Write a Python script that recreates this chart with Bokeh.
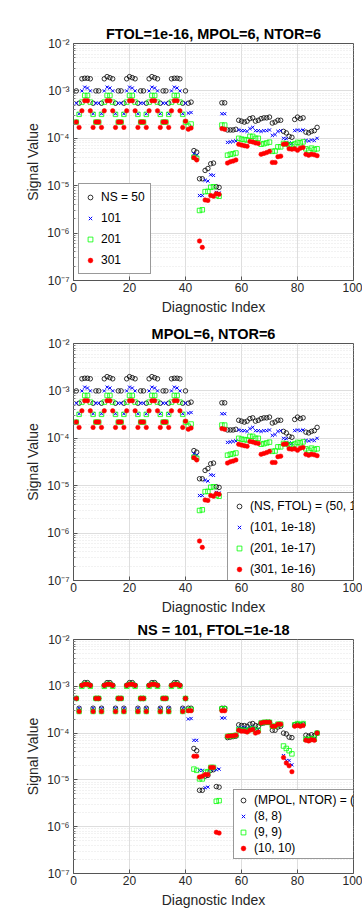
from bokeh.plotting import figure
from bokeh.layouts import column
from bokeh.models import Range1d, FixedTicker, CustomJSTickFormatter, Legend, LegendItem
from bokeh.embed import file_html
from bokeh.resources import INLINE

# ---------------- data ----------------
diag_index = list(range(1, 88))

# Panels 1 and 2 (FTOL=1e-16, MPOL=6, NTOR=6 / MPOL=6, NTOR=6)
ns50 = [1.0e-3, 5.5e-4, 1.8e-3, 1.85e-3, 1.85e-3, 1.8e-3, 5.5e-4, 1.0e-3,
        1.0e-3, 5.5e-4, 1.8e-3, 2.0e-3, 1.9e-3, 1.8e-3, 5.5e-4, 1.0e-3,
        1.0e-3, 5.5e-4, 1.8e-3, 2.0e-3, 1.9e-3, 1.8e-3, 5.5e-4, 1.0e-3,
        1.0e-3, 5.5e-4, 1.8e-3, 2.0e-3, 1.9e-3, 1.8e-3, 5.5e-4, 1.0e-3,
        1.0e-3, 5.5e-4, 1.8e-3, 1.85e-3, 1.85e-3, 1.8e-3, 5.5e-4, 1.0e-3,
        5.5e-4, 5.8e-4, 5.5e-5, 5.1e-5, 1.4e-5, 1.4e-5, 2.1e-5, 2.3e-5, 2.9e-5, 3.0e-5, 9.5e-6, 9.2e-6,
        5.6e-4, 5.6e-4,
        1.5e-4, 1.5e-4, 1.5e-4, 1.55e-4, 2.4e-4, 2.3e-4, 2.2e-4, 2.3e-4,
        2.6e-4, 2.7e-4, 2.3e-4, 2.4e-4, 2.6e-4, 2.7e-4, 2.7e-4, 2.8e-4,
        2.1e-4, 2.2e-4, 2.4e-4, 2.4e-4, 1.4e-4, 1.3e-4, 1.1e-4, 1.05e-4,
        2.5e-4, 2.8e-4, 2.6e-4, 2.7e-4, 1.35e-4, 1.3e-4, 1.4e-4, 1.45e-4, 1.7e-4]
ns101 = [5.5e-4, 3.3e-4, 1.0e-3, 1.2e-3, 1.15e-3, 1.0e-3, 3.3e-4, 5.5e-4,
         5.5e-4, 3.3e-4, 1.0e-3, 1.2e-3, 1.15e-3, 1.0e-3, 3.3e-4, 5.5e-4,
         5.5e-4, 3.3e-4, 1.0e-3, 1.2e-3, 1.15e-3, 1.0e-3, 3.3e-4, 5.5e-4,
         5.5e-4, 3.3e-4, 1.0e-3, 1.2e-3, 1.15e-3, 1.0e-3, 3.3e-4, 5.5e-4,
         5.5e-4, 3.3e-4, 1.0e-3, 1.2e-3, 1.15e-3, 1.0e-3, 3.3e-4, 5.5e-4,
         3.4e-4, 3.5e-4, 4.7e-5, 4.4e-5, 6.2e-6, 6.2e-6, 1.3e-5, 1.25e-5, 1.7e-5, 1.65e-5, 7.2e-6, 7.0e-6,
         3.3e-4, 3.3e-4,
         8.2e-5, 8.4e-5, 8.6e-5, 8.8e-5, 1.5e-4, 1.45e-4, 1.45e-4, 1.4e-4,
         1.6e-4, 1.7e-4, 1.45e-4, 1.45e-4, 1.4e-4, 1.45e-4, 1.45e-4, 1.5e-4,
         1.15e-4, 1.2e-4, 1.4e-4, 1.45e-4, 1.0e-4, 9.8e-5, 8.0e-5, 7.8e-5,
         1.45e-4, 1.5e-4, 1.45e-4, 1.5e-4, 9.0e-5, 8.8e-5, 9.2e-5, 9.0e-5, 1.0e-4]
ns201 = [2.2e-4, 3.2e-4, 5.8e-4, 8.0e-4, 8.0e-4, 5.8e-4, 3.2e-4, 2.2e-4,
         2.2e-4, 3.2e-4, 5.8e-4, 8.0e-4, 8.0e-4, 5.8e-4, 3.2e-4, 2.2e-4,
         2.2e-4, 3.2e-4, 5.8e-4, 8.0e-4, 8.0e-4, 5.8e-4, 3.2e-4, 2.2e-4,
         2.2e-4, 3.2e-4, 5.8e-4, 8.0e-4, 8.0e-4, 5.8e-4, 3.2e-4, 2.2e-4,
         2.2e-4, 3.2e-4, 5.8e-4, 8.0e-4, 8.0e-4, 5.8e-4, 3.2e-4, 2.2e-4,
         1.8e-4, 2.0e-4, 4.0e-5, 3.8e-5, 3.0e-6, 3.1e-6, 7.5e-6, 7.6e-6, 9.3e-6, 9.5e-6, 6.2e-6, 6.0e-6,
         1.9e-4, 1.9e-4,
         4.4e-5, 4.6e-5, 4.7e-5, 4.9e-5, 1.0e-4, 9.6e-5, 9.4e-5, 9.2e-5,
         1.1e-4, 1.1e-4, 1.0e-4, 1.0e-4, 7.5e-5, 7.7e-5, 8.0e-5, 8.3e-5,
         5.3e-5, 5.4e-5, 6.6e-5, 6.6e-5, 7.8e-5, 7.6e-5, 7.2e-5, 7.3e-5,
         7.6e-5, 8.2e-5, 8.0e-5, 8.4e-5, 6.0e-5, 5.6e-5, 6.2e-5, 5.8e-5, 6.0e-5]
ns301 = [2.2e-4, 1.7e-4, 3.8e-4, 6.2e-4, 6.2e-4, 3.8e-4, 1.7e-4, 2.2e-4,
         2.2e-4, 1.7e-4, 3.8e-4, 6.2e-4, 6.2e-4, 3.8e-4, 1.7e-4, 2.2e-4,
         2.2e-4, 1.7e-4, 3.8e-4, 6.2e-4, 6.2e-4, 3.8e-4, 1.7e-4, 2.2e-4,
         2.2e-4, 1.7e-4, 3.8e-4, 6.2e-4, 6.2e-4, 3.8e-4, 1.7e-4, 2.2e-4,
         2.2e-4, 1.7e-4, 3.8e-4, 6.2e-4, 6.2e-4, 3.8e-4, 1.7e-4, 2.3e-4,
         1.55e-4, 1.65e-4, 3.9e-5, 3.5e-5, 6.8e-7, 5.0e-7, 5.0e-6, 4.9e-6, 6.2e-6, 6.0e-6, 6.8e-6, 6.6e-6,
         1.6e-4, 1.55e-4,
         3.0e-5, 3.2e-5, 3.3e-5, 3.5e-5, 7.5e-5, 7.2e-5, 7.0e-5, 6.8e-5,
         8.6e-5, 8.4e-5, 8.0e-5, 7.8e-5, 4.6e-5, 4.8e-5, 5.0e-5, 5.3e-5,
         3.1e-5, 3.1e-5, 4.1e-5, 4.2e-5, 7.5e-5, 7.6e-5, 6.0e-5, 5.9e-5,
         6.0e-5, 5.6e-5, 6.2e-5, 6.4e-5, 4.6e-5, 4.4e-5, 4.6e-5, 4.5e-5, 4.3e-5]

# Panel 3 (NS = 101, FTOL=1e-18)
mn66 = [5.5e-4, 3.4e-4, 1.05e-3, 1.2e-3, 1.2e-3, 1.05e-3, 3.4e-4, 5.5e-4,
        5.5e-4, 3.4e-4, 1.05e-3, 1.2e-3, 1.2e-3, 1.05e-3, 3.4e-4, 5.5e-4,
        5.5e-4, 3.4e-4, 1.05e-3, 1.2e-3, 1.2e-3, 1.05e-3, 3.4e-4, 5.5e-4,
        5.5e-4, 3.4e-4, 1.05e-3, 1.2e-3, 1.2e-3, 1.05e-3, 3.4e-4, 5.5e-4,
        5.5e-4, 3.4e-4, 1.05e-3, 1.2e-3, 1.2e-3, 1.05e-3, 3.4e-4, 5.5e-4,
        3.4e-4, 3.4e-4, 4.7e-5, 4.2e-5, 6.0e-6, 6.0e-6, 1.2e-5, 1.25e-5, 1.6e-5, 1.65e-5, 7.2e-6, 7.0e-6,
        3.4e-4, 3.4e-4,
        8.0e-5, 8.2e-5, 8.4e-5, 8.6e-5, 1.5e-4, 1.45e-4, 1.45e-4, 1.4e-4,
        1.55e-4, 1.6e-4, 1.45e-4, 1.4e-4, 1.6e-4, 1.65e-4, 1.7e-4, 1.7e-4,
        1.15e-4, 1.15e-4, 1.35e-4, 1.4e-4, 1.0e-4, 9.6e-5, 8.2e-5, 8.0e-5,
        1.5e-4, 1.55e-4, 1.5e-4, 1.55e-4, 9.0e-5, 8.6e-5, 9.2e-5, 8.8e-5, 1.0e-4]
mn88 = [5.5e-4, 3.4e-4, 1.05e-3, 1.15e-3, 1.15e-3, 1.05e-3, 3.4e-4, 5.5e-4,
        5.5e-4, 3.4e-4, 1.05e-3, 1.15e-3, 1.15e-3, 1.05e-3, 3.4e-4, 5.5e-4,
        5.5e-4, 3.4e-4, 1.05e-3, 1.15e-3, 1.15e-3, 1.05e-3, 3.4e-4, 5.5e-4,
        5.5e-4, 3.4e-4, 1.05e-3, 1.15e-3, 1.15e-3, 1.05e-3, 3.4e-4, 5.5e-4,
        5.5e-4, 3.4e-4, 1.05e-3, 1.15e-3, 1.15e-3, 1.05e-3, 3.4e-4, 5.5e-4,
        2.0e-4, 2.05e-4, 7.0e-5, 7.0e-5, 1.6e-5, 1.6e-5, 6.8e-6, 7.0e-6, 1.7e-5, 1.7e-5, 1.65e-5, 1.7e-5,
        2.1e-4, 2.1e-4,
        8.4e-5, 8.6e-5, 8.7e-5, 8.8e-5, 1.3e-4, 1.3e-4, 1.3e-4, 1.25e-4,
        1.3e-4, 1.35e-4, 1.2e-4, 1.2e-4, 1.6e-4, 1.65e-4, 1.65e-4, 1.7e-4,
        1.35e-4, 1.35e-4, 1.5e-4, 1.5e-4, 3.3e-5, 2.6e-5, 2.6e-5, 2.1e-5,
        1.4e-4, 1.45e-4, 1.4e-4, 1.45e-4, 7.2e-5, 7.0e-5, 7.4e-5, 7.2e-5, 1.0e-4]
mn99 = [5.5e-4, 2.9e-4, 1.0e-3, 1.1e-3, 1.1e-3, 1.0e-3, 2.9e-4, 5.5e-4,
        5.5e-4, 2.9e-4, 1.0e-3, 1.1e-3, 1.1e-3, 1.0e-3, 2.9e-4, 5.5e-4,
        5.5e-4, 2.9e-4, 1.0e-3, 1.1e-3, 1.1e-3, 1.0e-3, 2.9e-4, 5.5e-4,
        5.5e-4, 2.9e-4, 1.0e-3, 1.1e-3, 1.1e-3, 1.0e-3, 2.9e-4, 5.5e-4,
        5.5e-4, 2.9e-4, 1.0e-3, 1.1e-3, 1.1e-3, 1.0e-3, 2.9e-4, 5.5e-4,
        3.1e-4, 3.2e-4, 1.7e-5, 1.6e-5, 1.05e-5, 1.05e-5, 1.45e-5, 1.5e-5, 1.85e-5, 1.85e-5, 3.5e-6, 3.6e-6,
        3.3e-4, 3.3e-4,
        8.5e-5, 8.7e-5, 8.8e-5, 9.0e-5, 1.2e-4, 1.15e-4, 1.15e-4, 1.1e-4,
        1.2e-4, 1.25e-4, 1.1e-4, 1.15e-4, 1.65e-4, 1.7e-4, 1.7e-4, 1.7e-4,
        1.4e-4, 1.4e-4, 1.55e-4, 1.55e-4, 5.3e-5, 4.7e-5, 4.2e-5, 3.6e-5,
        1.5e-4, 1.6e-4, 1.5e-4, 1.6e-4, 7.4e-5, 7.2e-5, 7.6e-5, 7.4e-5, 1.0e-4]
mn1010 = [5.5e-4, 2.9e-4, 1.05e-3, 1.1e-3, 1.1e-3, 1.05e-3, 2.9e-4, 5.5e-4,
          5.5e-4, 2.9e-4, 1.05e-3, 1.1e-3, 1.1e-3, 1.05e-3, 2.9e-4, 5.5e-4,
          5.5e-4, 2.9e-4, 1.05e-3, 1.1e-3, 1.1e-3, 1.05e-3, 2.9e-4, 5.5e-4,
          5.5e-4, 2.9e-4, 1.05e-3, 1.1e-3, 1.1e-3, 1.05e-3, 2.9e-4, 5.5e-4,
          5.5e-4, 2.9e-4, 1.05e-3, 1.1e-3, 1.1e-3, 1.05e-3, 2.9e-4, 5.5e-4,
          3.0e-4, 3.0e-4, 3.2e-5, 3.2e-5, 1.15e-5, 1.2e-5, 1.3e-5, 1.3e-5, 1.85e-5, 1.85e-5, 7.6e-7, 7.3e-7,
          3.0e-4, 3.0e-4,
          8.6e-5, 8.7e-5, 8.8e-5, 9.0e-5, 1.15e-4, 1.1e-4, 1.1e-4, 1.05e-4,
          1.15e-4, 1.2e-4, 1.0e-4, 1.05e-4, 1.65e-4, 1.7e-4, 1.7e-4, 1.7e-4,
          1.4e-4, 1.4e-4, 1.55e-4, 1.55e-4, 3.0e-5, 2.3e-5, 2.0e-5, 1.5e-5,
          1.4e-4, 1.45e-4, 1.4e-4, 1.45e-4, 7.0e-5, 6.8e-5, 7.2e-5, 7.0e-5, 1.0e-4]

titles = ["FTOL=1e-16, MPOL=6, NTOR=6", "MPOL=6, NTOR=6", "NS = 101, FTOL=1e-18"]
labels1 = ["NS = 50", "101", "201", "301"]
labels2 = ["(NS, FTOL) = (50, 1e-19)", "(101, 1e-18)", "(201, 1e-17)", "(301, 1e-16)"]
labels3 = ["(MPOL, NTOR) = (6, 6)", "(8, 8)", "(9, 9)", "(10, 10)"]
x_ticks = [0, 20, 40, 60, 80, 100]
y_ticks = [1e-7, 1e-6, 1e-5, 1e-4, 1e-3, 1e-2]

FONT = "Liberation Sans"
TXT = "#262626"

y_minor = [m * d for d in y_ticks[:-1] for m in range(2, 10)]

fmt = CustomJSTickFormatter(code="""
const sup = {'-':'\u207b','0':'\u2070','1':'\u00b9','2':'\u00b2','3':'\u00b3','4':'\u2074','5':'\u2075','6':'\u2076','7':'\u2077','8':'\u2078','9':'\u2079'};
const e = Math.round(Math.log10(tick));
return '10' + String(e).split('').map(c => sup[c]).join('');
""")


def make_panel(title, series, labels, height, top, bottom, loc, lab_h, spc, pad):
    p = figure(width=362, height=height, y_axis_type="log",
               x_range=Range1d(0, 100), y_range=Range1d(1e-7, 1e-2),
               output_backend="svg", toolbar_location=None,
               min_border_left=73, min_border_right=9,
               min_border_top=top, min_border_bottom=bottom)
    p.title.text = title
    p.title.align = "center"
    p.title.text_font = FONT
    p.title.text_font_size = "14.5px"
    p.title.text_font_style = "bold"
    p.title.text_color = "black"
    p.title.standoff = 3

    p.xaxis.ticker = FixedTicker(ticks=x_ticks)
    p.yaxis.ticker = FixedTicker(ticks=y_ticks, minor_ticks=y_minor)
    p.yaxis.formatter = fmt
    for ax in (p.xaxis, p.yaxis):
        ax.axis_line_color = None
        ax.major_tick_in = 4
        ax.major_tick_out = 0
        ax.minor_tick_in = 2
        ax.minor_tick_out = 0
        ax.major_tick_line_color = "#555555"
        ax.minor_tick_line_color = "#777777"
        ax.major_label_text_font = FONT
        ax.major_label_text_font_size = "12px"
        ax.major_label_text_color = TXT
        ax.axis_label_text_font = FONT
        ax.axis_label_text_font_size = "14px"
        ax.axis_label_text_font_style = "normal"
        ax.axis_label_text_color = TXT
    p.xaxis.minor_tick_line_color = None
    p.xaxis.axis_label = "Diagnostic Index"
    p.yaxis.axis_label = "Signal Value"
    p.xaxis.major_label_standoff = 2
    p.xaxis.axis_label_standoff = 4
    p.yaxis.major_label_standoff = 4
    p.yaxis.axis_label_standoff = 3

    p.xgrid.grid_line_color = "#dedede"
    p.ygrid.grid_line_color = "#dedede"
    p.ygrid.minor_grid_line_color = "#e4e4e4"
    p.ygrid.minor_grid_line_dash = "1 2"
    p.outline_line_color = "#555555"
    p.outline_line_width = 1
    p.background_fill_color = "white"
    p.border_fill_color = "white"

    r1 = p.scatter(diag_index, series[0], marker="circle", size=4.5,
                   fill_color=None, line_color="black", line_width=0.8)
    r2 = p.scatter(diag_index, series[1], marker="x", size=4.5,
                   line_color="#0000ff", line_width=1)
    r3 = p.scatter(diag_index, series[2], marker="square", size=4.5,
                   fill_color=None, line_color="#00ff00", line_width=0.8)
    r4 = p.scatter(diag_index, series[3], marker="circle", size=4.5,
                   fill_color="#ff0000", line_color="#ff0000", line_width=0.5)

    leg = Legend(items=[LegendItem(label=l, renderers=[r])
                        for l, r in zip(labels, [r1, r2, r3, r4])],
                 location=loc)
    leg.label_text_font = FONT
    leg.label_text_font_size = "12px"
    leg.label_text_color = "black"
    leg.border_line_color = "#333333"
    leg.border_line_width = 1
    leg.background_fill_color = "white"
    leg.background_fill_alpha = 1
    leg.glyph_width = 12
    leg.glyph_height = lab_h
    leg.label_height = lab_h
    leg.spacing = spc
    leg.padding = pad
    leg.margin = 0
    leg.label_standoff = 5
    p.add_layout(leg, "center")
    return p


p1 = make_panel(titles[0], [ns50, ns101, ns201, ns301], labels1, 318, 43, 38, (5, 6), 16, 5, 5)
p2 = make_panel(titles[1], [ns50, ns101, ns201, ns301], labels2, 300, 25, 38, (154, -3), 16, 5, 5)
p3 = make_panel(titles[2], [mn66, mn88, mn99, mn1010], labels3, 292, 20, 34, (160, 14), 14, 2, 3)

layout = column(p1, p2, p3, spacing=0)
open("out.html", "w").write(file_html(layout, INLINE))
